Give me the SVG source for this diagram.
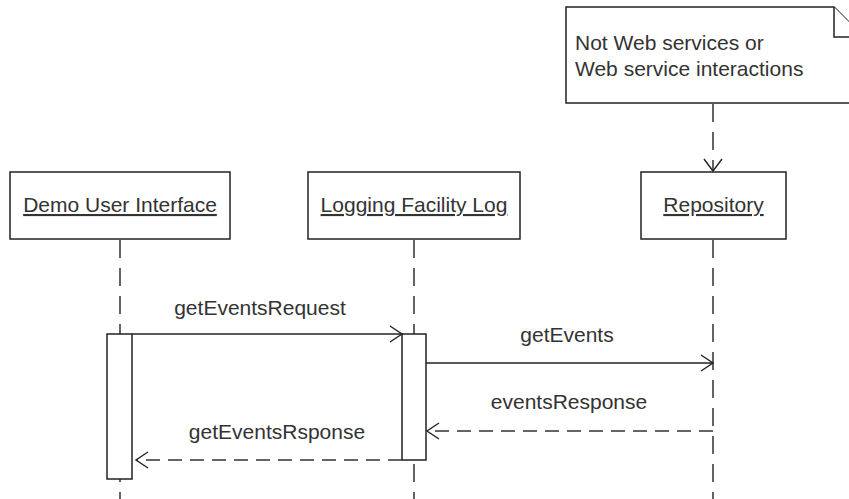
<svg xmlns="http://www.w3.org/2000/svg" width="849" height="499" viewBox="0 0 849 499">
<style>
.box{fill:#fff;stroke:#222;stroke-width:1.5}
.t{font-family:"Liberation Sans",Arial,sans-serif;font-size:21px;fill:#333}
.u{text-decoration:underline}
.life{stroke:#222;stroke-width:1.4;stroke-dasharray:18 10;fill:none}
.msg{stroke:#222;stroke-width:1.4;fill:none}
.ret{stroke:#333;stroke-width:1.4;fill:none;stroke-dasharray:14 8}
.head{stroke:#222;stroke-width:1.4;fill:none}
</style>
<rect width="849" height="499" fill="#fff"/>
<g id="connectors">
<line class="life" x1="120" y1="240" x2="120" y2="499"/>
<line class="life" x1="414" y1="240" x2="414" y2="499"/>
<line class="life" x1="713" y1="240" x2="713" y2="499"/>
<line class="life" x1="713" y1="104" x2="713" y2="171" stroke-dasharray="14 10"/>
<path class="head" d="M704,159 L713,171 L722,159"/>
</g>
<g id="note">
<path class="box" d="M566,7 H834 L864,37 V103 H566 Z"/>
<path class="box" d="M834,7 V37 H864" fill="none"/>
<text class="t" x="575" y="50">Not Web services or</text>
<text class="t" x="575" y="76">Web service interactions</text>
</g>
<g id="demo">
<rect class="box" x="10" y="172" width="220" height="67"/>
<text class="t u" x="120" y="212" text-anchor="middle">Demo User Interface</text>
</g>
<g id="logging">
<rect class="box" x="308" y="172" width="212" height="67"/>
<text class="t u" x="414" y="212" text-anchor="middle">Logging Facility Log</text>
</g>
<g id="repository">
<rect class="box" x="641" y="172" width="145" height="67"/>
<text class="t u" x="713.5" y="212" text-anchor="middle">Repository</text>
</g>
<g id="activation-demo">
<rect class="box" x="107" y="334" width="25" height="145"/>
</g>
<g id="activation-logging">
<rect class="box" x="402" y="334" width="24" height="126"/>
</g>
<g id="messages">
<line class="msg" x1="132" y1="334" x2="402" y2="334"/>
<path class="head" d="M390,326 L402,334 L390,342"/>
<text class="t" x="260" y="315" text-anchor="middle">getEventsRequest</text>
<line class="msg" x1="426" y1="363" x2="713" y2="363"/>
<path class="head" d="M701,355 L713,363 L701,371"/>
<text class="t" x="567" y="342" text-anchor="middle">getEvents</text>
<line class="ret" x1="713" y1="431" x2="428" y2="431"/>
<path class="head" d="M439,423 L427,431 L439,439"/>
<text class="t" x="569" y="409" text-anchor="middle">eventsResponse</text>
<line class="ret" x1="402" y1="460" x2="137" y2="460"/>
<path class="head" d="M148,452 L136,460 L148,468"/>
<text class="t" x="277" y="439" text-anchor="middle">getEventsRsponse</text>
</g>
</svg>
